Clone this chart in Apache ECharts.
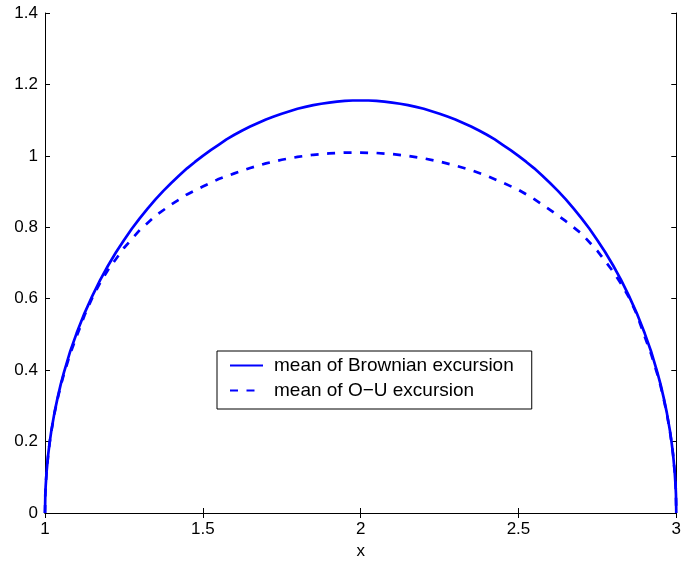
<!DOCTYPE html>
<html>
<head>
<meta charset="utf-8">
<script src="https://cdn.jsdelivr.net/npm/echarts@6/dist/echarts.min.js"></script>
<style>
html,body{margin:0;padding:0;background:#fff;}
#chart{width:684px;height:565px;}
</style>
</head>
<body>
<div id="chart"></div>
<script>
// Data
const brownX = [1, 1.001, 1.002, 1.005, 1.01, 1.015, 1.02, 1.03, 1.04, 1.05, 1.06, 1.08, 1.1, 1.125, 1.15, 1.175, 1.2, 1.225, 1.25, 1.275, 1.3, 1.325, 1.35, 1.375, 1.4, 1.425, 1.45, 1.475, 1.5,
  1.525, 1.55, 1.575, 1.6, 1.625, 1.65, 1.675, 1.7, 1.725, 1.75, 1.775, 1.8, 1.825, 1.85, 1.875, 1.9, 1.925, 1.95, 1.975, 2,
  2.025, 2.05, 2.075, 2.1, 2.125, 2.15, 2.175, 2.2, 2.225, 2.25, 2.275, 2.3, 2.325, 2.35, 2.375, 2.4, 2.425, 2.45, 2.475, 2.5,
  2.525, 2.55, 2.575, 2.6, 2.625, 2.65, 2.675, 2.7, 2.725, 2.75, 2.775, 2.8, 2.825, 2.85, 2.875, 2.9, 2.92, 2.94, 2.95, 2.96, 2.97, 2.98, 2.985, 2.99, 2.995, 2.998, 2.999, 3];
const brownY = [0, 0.052, 0.073, 0.115, 0.163, 0.199, 0.230, 0.281, 0.323, 0.361, 0.394, 0.453, 0.503, 0.559, 0.608, 0.653, 0.693, 0.730, 0.764, 0.796, 0.825, 0.852, 0.878, 0.902, 0.924, 0.945, 0.965, 0.983, 1.000,
  1.016, 1.031, 1.046, 1.059, 1.071, 1.082, 1.092, 1.102, 1.110, 1.118, 1.125, 1.132, 1.137, 1.142, 1.146, 1.149, 1.152, 1.154, 1.155, 1.155,
  1.155, 1.154, 1.152, 1.149, 1.146, 1.142, 1.137, 1.132, 1.125, 1.118, 1.110, 1.102, 1.092, 1.082, 1.071, 1.059, 1.046, 1.031, 1.016, 1.000,
  0.983, 0.965, 0.945, 0.924, 0.902, 0.878, 0.852, 0.825, 0.796, 0.764, 0.730, 0.693, 0.653, 0.608, 0.559, 0.503, 0.453, 0.394, 0.361, 0.323, 0.281, 0.230, 0.199, 0.163, 0.115, 0.073, 0.052, 0];

const ouX = [1, 1.001, 1.002, 1.005, 1.01, 1.015, 1.02, 1.03, 1.04, 1.05, 1.06, 1.08, 1.1, 1.125, 1.15, 1.175, 1.2, 1.25, 1.3, 1.35, 1.4, 1.45, 1.5, 1.55, 1.6, 1.65, 1.7, 1.75, 1.8, 1.85, 1.9, 1.95, 2,
  2.05, 2.1, 2.15, 2.2, 2.25, 2.3, 2.35, 2.4, 2.45, 2.5, 2.55, 2.6, 2.65, 2.7, 2.75, 2.8, 2.825, 2.85, 2.875, 2.9, 2.92, 2.94, 2.95, 2.96, 2.97, 2.98, 2.985, 2.99, 2.995, 2.998, 2.999, 3];
const ouY = [0, 0.052, 0.073, 0.115, 0.162, 0.198, 0.228, 0.279, 0.320, 0.357, 0.389, 0.446, 0.494, 0.553, 0.603, 0.645, 0.681, 0.742, 0.792, 0.832, 0.864, 0.892, 0.914, 0.935, 0.951, 0.966, 0.979, 0.989, 0.997, 1.003, 1.007, 1.009, 1.009,
  1.008, 1.005, 1.000, 0.993, 0.984, 0.973, 0.960, 0.944, 0.925, 0.905, 0.879, 0.849, 0.817, 0.782, 0.734, 0.676, 0.642, 0.604, 0.556, 0.494, 0.446, 0.389, 0.357, 0.320, 0.279, 0.228, 0.198, 0.162, 0.115, 0.073, 0.052, 0];

const seriesNames = ['mean of Brownian excursion', 'mean of O\u2212U excursion'];
const xTicks = [1, 1.5, 2, 2.5, 3];
const yTicks = [0, 0.2, 0.4, 0.6, 0.8, 1, 1.2, 1.4];
const xLabel = 'x';

const toPairs = (xs, ys) => xs.map((x, i) => [x, ys[i]]);
const font = 'Liberation Sans, Arial, Helvetica, sans-serif';

const chart = echarts.init(document.getElementById('chart'), null, {renderer: 'canvas'});

const axisCommon = {
  type: 'value',
  axisLine: {show: true, lineStyle: {color: '#000', width: 1}},
  axisTick: {show: true, inside: true, length: 5, lineStyle: {color: '#000'}},
  splitLine: {show: false},
};

chart.setOption({
  animation: false,
  backgroundColor: '#fff',
  grid: {left: 45, right: 5, top: 13, bottom: 52, containLabel: false},
  xAxis: [
    Object.assign({}, axisCommon, {
      min: xTicks[0], max: xTicks[xTicks.length - 1], interval: 0.5,
      position: 'bottom',
      name: xLabel, nameLocation: 'middle', nameGap: 27,
      nameTextStyle: {color: '#000', fontSize: 17, fontFamily: font},
      axisLabel: {color: '#000', fontSize: 17, fontFamily: font, margin: 8}
    }),
    Object.assign({}, axisCommon, {
      min: xTicks[0], max: xTicks[xTicks.length - 1], interval: 0.5,
      position: 'top', axisLabel: {show: false}
    })
  ],
  yAxis: [
    Object.assign({}, axisCommon, {
      min: yTicks[0], max: yTicks[yTicks.length - 1], interval: 0.2,
      position: 'left',
      axisLabel: {color: '#000', fontSize: 17, fontFamily: font, margin: 7}
    }),
    Object.assign({}, axisCommon, {
      min: yTicks[0], max: yTicks[yTicks.length - 1], interval: 0.2,
      position: 'right', axisLabel: {show: false}
    })
  ],
  legend: {
    orient: 'vertical',
    left: 217, top: 351,
    padding: [5, 18, 9, 12],
    itemGap: 6,
    itemWidth: 33,
    itemHeight: 14,
    backgroundColor: '#fff',
    borderColor: '#000',
    borderWidth: 1,
    borderRadius: 0,
    itemStyle: {opacity: 0},
    textStyle: {color: '#000', fontSize: 19, fontFamily: font, padding: [0, 0, 0, 6]},
    data: seriesNames
  },
  series: [
    {
      name: seriesNames[0], type: 'line', symbol: 'none', smooth: false,
      data: toPairs(brownX, brownY),
      lineStyle: {color: '#0000ff', width: 2.7},
      itemStyle: {color: '#0000ff'}
    },
    {
      name: seriesNames[1], type: 'line', symbol: 'none', smooth: false,
      data: toPairs(ouX, ouY),
      lineStyle: {color: '#0000ff', width: 2.7, type: [8, 8.5]},
      itemStyle: {color: '#0000ff'}
    }
  ]
});
</script>
</body>
</html>
